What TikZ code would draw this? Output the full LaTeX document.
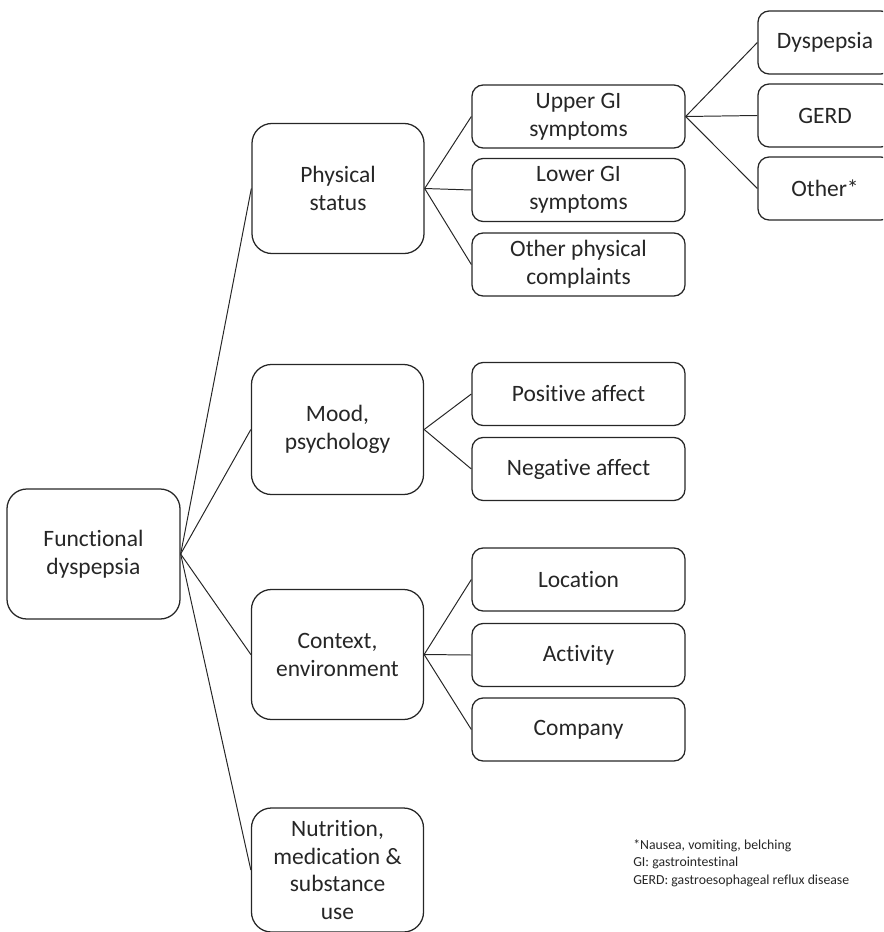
\documentclass[tikz,border=0pt]{standalone}
\usepackage{fontspec}
\setmainfont{Carlito}[Ligatures=NoCommon]
\usepackage{xcolor}
\usepackage{tikz}
\definecolor{ink}{HTML}{262626}

\begin{document}
\begin{tikzpicture}[x=0.025cm,y=-0.025cm,
  font=\fontsize{16.7pt}{19.9pt}\selectfont,
  topic/.style={draw=ink,line width=0.9pt,rounded corners=0.5cm,text=ink,
                minimum width=4.3cm,minimum height=3.25cm,align=center,inner sep=2pt},
  item/.style={draw=ink,line width=0.9pt,rounded corners=0.28cm,text=ink,
               minimum width=5.325cm,minimum height=1.575cm,align=center,inner sep=2pt},
  leaf/.style={item,minimum width=3.35cm},
  link/.style={draw=ink,line width=0.7pt},
  ]
  \clip (0,0) rectangle (883,932);

  % ---- root ----
  \node[topic,minimum width=4.325cm] (fd) at (93.5,554) {Functional\\dyspepsia};

  % ---- first level ----
  \node[topic] (phys) at (338,188.5)   {Physical\\status};
  \node[topic] (mood) at (337.5,429.5) {Mood,\\psychology};
  \node[topic] (ctx)  at (337.5,654.5) {Context,\\environment};
  \node[topic,minimum height=3.1cm] (nutr) at (337.5,870) {Nutrition,\\medication \&\\substance\\use};

  % ---- second level ----
  \node[item] (upper)  at (578.5,116.5) {Upper GI\\symptoms};
  \node[item] (lower)  at (578.5,190)   {Lower GI\\symptoms};
  \node[item] (otherp) at (578.5,264.5) {Other physical\\complaints};
  \node[item] (pos)    at (578.5,394)   {Positive affect};
  \node[item] (neg)    at (578.5,469)   {Negative affect};
  \node[item] (loc)    at (578.5,579.5) {Location};
  \node[item] (act)    at (578.5,655)   {Activity};
  \node[item] (comp)   at (578.5,729.5) {Company};

  % ---- third level (runs off the right edge) ----
  \node[leaf] (dysp)  at (825,42.5)  {Dyspepsia};
  \node[leaf] (gerd)  at (825,115.5) {GERD};
  \node[leaf] (other) at (825,188.5) {Other*};

  % connectors
  \foreach \c in {phys,mood,ctx,nutr} \draw[link] (fd.east) -- (\c.west);
  \foreach \c in {upper,lower,otherp} \draw[link] (phys.east) -- (\c.west);
  \foreach \c in {pos,neg} \draw[link] (mood.east) -- (\c.west);
  \foreach \c in {loc,act,comp} \draw[link] (ctx.east) -- (\c.west);
  \foreach \c in {dysp,gerd,other} \draw[link] (upper.east) -- (\c.west);

  % footnote
  \node[anchor=base west,align=left,inner sep=0pt,text=ink,
        font=\fontsize{9.8pt}{12.1pt}\selectfont] (note) at (633,884)
    {*Nausea, vomiting, belching\\GI: gastrointestinal\\GERD: gastroesophageal reflux disease};
\end{tikzpicture}
\end{document}
